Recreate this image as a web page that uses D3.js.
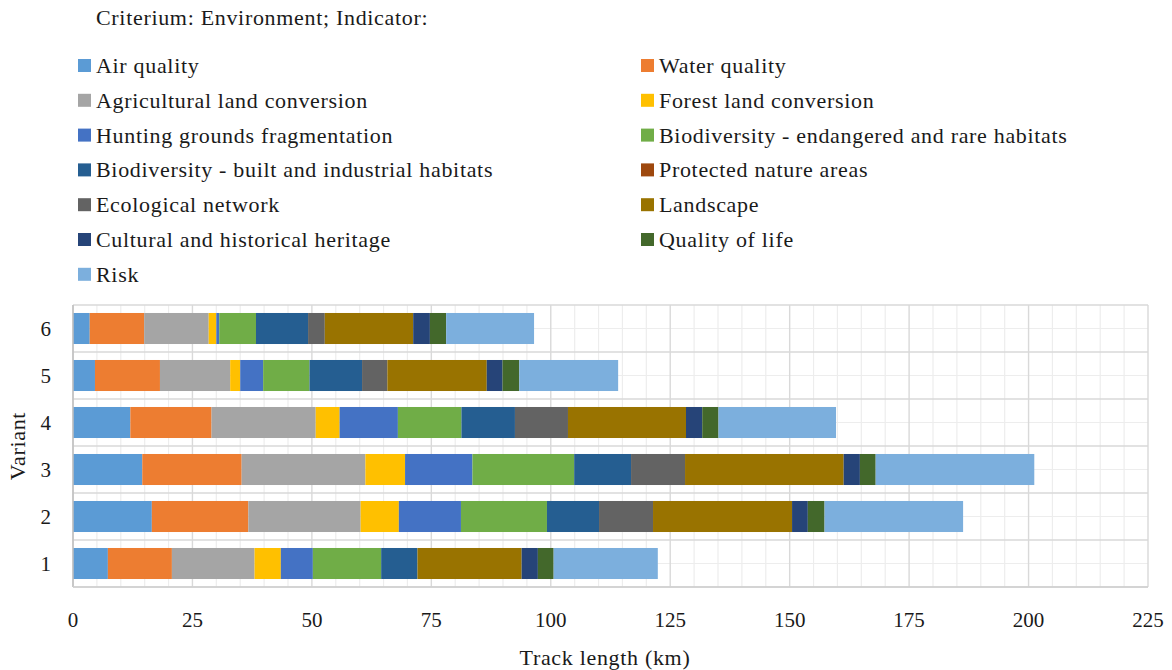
<!DOCTYPE html>
<html>
<head>
<meta charset="utf-8">
<script src="https://cdn.jsdelivr.net/npm/d3@7"></script>
<style>
  body { margin: 0; background: #fff; }
  text { font-family: 'Palatino Linotype', 'Book Antiqua', Palatino, 'Liberation Serif', serif; fill: #1a1a1a; }
  .words { letter-spacing: 0.68px; }
</style>
</head>
<body>
<div id="chart"></div>
<script>
// variants, bottom (1) to top (6)
var variants = ['1', '2', '3', '4', '5', '6']

var indicators = [
  'Air quality',
  'Water quality',
  'Agricultural land conversion',
  'Forest land conversion',
  'Hunting grounds fragmentation',
  'Biodiversity - endangered and rare habitats',
  'Biodiversity - built and industrial habitats',
  'Protected nature areas',
  'Ecological network',
  'Landscape',
  'Cultural and historical heritage',
  'Quality of life',
  'Risk'
]

// track length (km) per indicator, for variants 1..6
var airQuality = [7.3, 16.5, 14.5, 12.0, 4.6, 3.5]
var waterQuality = [13.4, 20.2, 20.8, 17.0, 13.6, 11.4]
var agriculturalLand = [17.3, 23.5, 25.9, 21.8, 14.7, 13.5]
var forestLand = [5.5, 8.0, 8.3, 5.0, 2.1, 1.6]
var huntingGrounds = [6.7, 13.0, 14.1, 12.2, 4.8, 0.6]
var bioEndangered = [14.3, 18.0, 21.3, 13.3, 9.7, 7.7]
var bioBuilt = [7.6, 10.9, 11.9, 11.2, 11.0, 10.9]
var protectedAreas = [0, 0, 0, 0, 0, 0]
var ecologicalNetwork = [0, 11.3, 11.3, 11.1, 5.3, 3.5]
var landscape = [21.8, 29.1, 33.2, 24.7, 20.8, 18.5]
var culturalHeritage = [3.4, 3.3, 3.4, 3.4, 3.3, 3.5]
var qualityOfLife = [3.3, 3.5, 3.3, 3.4, 3.5, 3.4]
var risk = [21.8, 29.0, 33.2, 24.6, 20.7, 18.4]

var seriesValues = [airQuality, waterQuality, agriculturalLand, forestLand, huntingGrounds,
  bioEndangered, bioBuilt, protectedAreas, ecologicalNetwork, landscape,
  culturalHeritage, qualityOfLife, risk]

var xTicks = [0, 25, 50, 75, 100, 125, 150, 175, 200, 225]

var colors = ['#5b9bd5', '#ed7d31', '#a5a5a5', '#ffc000', '#4472c4', '#70ad47',
  '#255e91', '#9e480e', '#636363', '#997300', '#264478', '#43682b', '#7cafdd']

var width = 1172
var height = 670
var plot = {left: 73, right: 1148, top: 305, bottom: 587}

var svg = d3
  .select('#chart')
  .append('svg')
  .attr('width', width)
  .attr('height', height)

// table for the stack
var rows = variants.map(function (v, i) {
  var row = {variant: v}
  indicators.forEach(function (name, j) {
    row[name] = seriesValues[j][i]
  })
  return row
})

var stacked = d3.stack().keys(indicators)(rows)

var xScale = d3.scaleLinear().domain([0, 225]).range([plot.left, plot.right])

var yScale = d3
  .scaleBand()
  .domain(variants.slice().reverse())
  .range([plot.top, plot.bottom])
  .paddingInner(0.34)
  .paddingOuter(0.17)

var colorScale = d3.scaleOrdinal().domain(indicators).range(colors)

// grid: minor lines first, major on top
var minorX = d3.range(0, 226, 5).filter((d) => d % 25 !== 0)
svg
  .selectAll('.minor-x')
  .data(minorX)
  .enter()
  .append('line')
  .attr('x1', (d) => xScale(d))
  .attr('x2', (d) => xScale(d))
  .attr('y1', plot.top)
  .attr('y2', plot.bottom)
  .attr('stroke', '#ededed')
  .attr('stroke-width', 1.2)

var step = yScale.step()
svg
  .selectAll('.minor-y')
  .data(variants)
  .enter()
  .append('line')
  .attr('x1', plot.left)
  .attr('x2', plot.right)
  .attr('y1', (d) => yScale(d) + yScale.bandwidth() / 2)
  .attr('y2', (d) => yScale(d) + yScale.bandwidth() / 2)
  .attr('stroke', '#ededed')
  .attr('stroke-width', 1.2)

svg
  .selectAll('.major-x')
  .data(xTicks)
  .enter()
  .append('line')
  .attr('x1', (d) => xScale(d))
  .attr('x2', (d) => xScale(d))
  .attr('y1', plot.top)
  .attr('y2', plot.bottom)
  .attr('stroke', '#d9d9d9')
  .attr('stroke-width', 1.4)

svg
  .selectAll('.major-y')
  .data(d3.range(variants.length + 1))
  .enter()
  .append('line')
  .attr('x1', plot.left)
  .attr('x2', plot.right)
  .attr('y1', (d) => plot.top + d * step)
  .attr('y2', (d) => plot.top + d * step)
  .attr('stroke', '#d9d9d9')
  .attr('stroke-width', 1.4)

// bars
svg
  .selectAll('.series')
  .data(stacked)
  .enter()
  .append('g')
  .attr('class', 'series')
  .attr('fill', (d) => colorScale(d.key))
  .selectAll('rect')
  .data((d) => d)
  .enter()
  .append('rect')
  .attr('x', (d) => xScale(d[0]))
  .attr('width', (d) => xScale(d[1]) - xScale(d[0]))
  .attr('y', (d) => yScale(d.data.variant))
  .attr('height', yScale.bandwidth())

// axis lines
svg
  .append('line')
  .attr('x1', plot.left)
  .attr('x2', plot.left)
  .attr('y1', plot.top)
  .attr('y2', plot.bottom)
  .attr('stroke', '#bfbfbf')
  .attr('stroke-width', 1.5)
svg
  .append('line')
  .attr('x1', plot.left)
  .attr('x2', plot.right)
  .attr('y1', plot.bottom)
  .attr('y2', plot.bottom)
  .attr('stroke', '#cfcfcf')
  .attr('stroke-width', 1.5)

// tick labels
svg
  .selectAll('.x-label')
  .data(xTicks)
  .enter()
  .append('text')
  .attr('x', (d) => xScale(d))
  .attr('y', 627)
  .attr('text-anchor', 'middle')
  .attr('font-size', 21)
  .text((d) => d)

svg
  .selectAll('.y-label')
  .data(variants)
  .enter()
  .append('text')
  .attr('x', 51)
  .attr('y', (d) => yScale(d) + yScale.bandwidth() / 2 + 7)
  .attr('text-anchor', 'end')
  .attr('font-size', 21)
  .text((d) => d)

svg
  .append('text')
  .attr('class', 'words')
  .attr('x', 605)
  .attr('y', 665)
  .attr('text-anchor', 'middle')
  .attr('font-size', 22)
  .text('Track length (km)')

svg
  .append('text')
  .attr('class', 'words')
  .attr('transform', 'translate(25,446) rotate(-90)')
  .attr('text-anchor', 'middle')
  .attr('font-size', 22)
  .text('Variant')

// legend
svg
  .append('text')
  .attr('class', 'words')
  .attr('x', 96)
  .attr('y', 25)
  .attr('font-size', 22)
  .text('Criterium: Environment; Indicator:')

var legend = svg
  .selectAll('.legend-entry')
  .data(indicators)
  .enter()
  .append('g')
  .attr('class', 'legend-entry')
  .attr('transform', function (d, i) {
    var col = i % 2
    var row = Math.floor(i / 2)
    return 'translate(' + (col === 0 ? 78 : 641) + ',' + (66 + row * 34.8) + ')'
  })

legend
  .append('rect')
  .attr('x', 0)
  .attr('y', -7)
  .attr('width', 13)
  .attr('height', 13)
  .attr('fill', (d) => colorScale(d))

legend
  .append('text')
  .attr('class', 'words')
  .attr('x', 18)
  .attr('y', 7)
  .attr('font-size', 22)
  .text((d) => d)
</script>
</body>
</html>
